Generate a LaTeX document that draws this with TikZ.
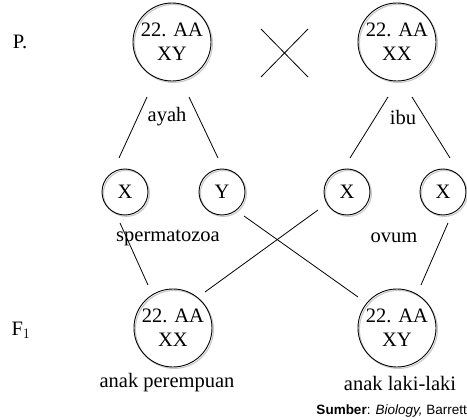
\documentclass[tikz,border=0pt]{standalone}
\usepackage{fontspec}
\setmainfont{Liberation Serif}
\newfontfamily\srcfont{Liberation Sans}
\begin{document}
\begin{tikzpicture}[x=1pt,y=-1pt,
  every node/.style={inner sep=0pt},
  shadowed/.style={preaction={draw=black!22,line width=1.1pt,transform canvas={shift={(1.4pt,-1.4pt)}}}},
  big/.style={circle,draw,line width=0.9pt,minimum size=78pt,align=center,font=\fontsize{20.5}{24}\selectfont,shadowed},
  small/.style={circle,draw,line width=0.9pt,minimum size=46pt,font=\fontsize{20.5}{24}\selectfont,shadowed},
  lbl/.style={font=\fontsize{20.5}{24}\selectfont},
  conn/.style={line width=0.8pt}]
\useasboundingbox (0,0) rectangle (467,420);
\fill[white] (0,0) rectangle (467,420);
% generation labels
\node[lbl] (P) at (20,42) {P.};
\node[lbl] (F) at (21,330) {F$_1$};
% parents
\node[big] (ayah) at (172,42) {22. AA\\XY};
\node[big] (ibu) at (397,42) {22. AA\\XX};
\coordinate (c1) at (261,29); \coordinate (c2) at (308,77);
\coordinate (c3) at (308,29); \coordinate (c4) at (261,77);
\draw[conn] (c1) -- (c2); \draw[conn] (c3) -- (c4);
\node[lbl] (lay) at (167,117) {ayah};
\node[lbl] (lib) at (403,117) {ibu};
% gametes
\node[small] (g1) at (125,192) {X};
\node[small] (g2) at (222,192) {Y};
\node[small] (g3) at (347,192) {X};
\node[small] (g4) at (443,192) {X};
\node[lbl] (lsp) at (168,238) {spermatozoa};
\node[lbl] (lov) at (394,238) {ovum};
% parent to gamete lines
\coordinate (a1) at (147,97); \coordinate (b1) at (119,158);
\coordinate (a2) at (189,97); \coordinate (b2) at (218,158);
\coordinate (a3) at (388,97); \coordinate (b3) at (350,158);
\coordinate (a4) at (412,97); \coordinate (b4) at (450,158);
\draw[conn] (a1) -- (b1); \draw[conn] (a2) -- (b2);
\draw[conn] (a3) -- (b3); \draw[conn] (a4) -- (b4);
% children
\node[big] (k1) at (173,328) {22. AA\\XX};
\node[big] (k2) at (397,328) {22. AA\\XY};
\node[lbl] (lk1) at (167,383) {anak perempuan};
\node[lbl] (lk2) at (400,383) {anak laki-laki};
% gamete to child lines
\coordinate (d1) at (120,223); \coordinate (e1) at (148,285);
\coordinate (d3) at (318,210); \coordinate (e3) at (205,292);
\coordinate (d2) at (244,216); \coordinate (e2) at (358,297);
\coordinate (d4) at (448,223); \coordinate (e4) at (421,285);
\draw[conn] (d1) -- (e1); \draw[conn] (d3) -- (e3);
\draw[conn] (d2) -- (e2); \draw[conn] (d4) -- (e4);
% source
\node[anchor=east,font=\srcfont\fontsize{13.5}{16}\selectfont] (src) at (467,411) {\textbf{Sumber}: \textit{Biology,} Barrett};
\end{tikzpicture}
\end{document}
